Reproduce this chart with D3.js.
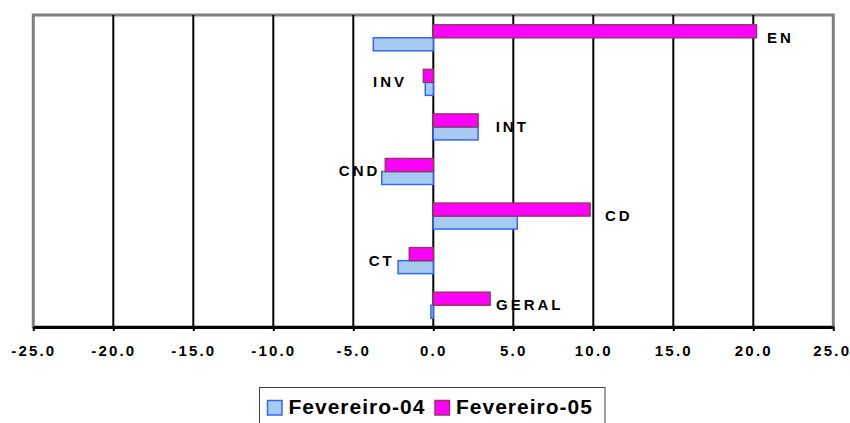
<!DOCTYPE html>
<html>
<head>
<meta charset="utf-8">
<script src="https://cdn.jsdelivr.net/npm/d3@7"></script>
<style>
  html, body { margin: 0; padding: 0; background: #fff; }
  svg { display: block; font-family: "Liberation Sans", Arial, sans-serif; }
</style>
</head>
<body>
<svg id="chart" width="850" height="423"></svg>
<script>
const categories = ["EN", "INV", "INT", "CND", "CD", "CT", "GERAL"];
const fev04 = [-3.75, -0.5, 2.8, -3.22, 5.25, -2.2, -0.15];
const fev05 = [20.2, -0.62, 2.8, -3.0, 9.8, -1.5, 3.55];
const labelAt = [20.85, -1.83, 3.9, -3.5, 10.73, -2.6, 3.92];
const xTicks = [-25, -20, -15, -10, -5, 0, 5, 10, 15, 20, 25];
const seriesNames = ["Fevereiro-04", "Fevereiro-05"];
const seriesFill = ["#A6CAF0", "#FF00FF"];
const seriesStroke = ["#3366FF", "#993366"];

(function () {
const W = 850;
const svg = d3.select("#chart");
const pLeft = 33.3, pRight = 833.3, pTop = 15, pBottom = 327;

const x = d3.scaleLinear().domain([-25, 25]).range([pLeft, pRight]);
const y = d3.scaleBand().domain(categories).range([pTop, pBottom]);
// series 1 (Fevereiro-05) above, series 0 (Fevereiro-04) below
const inner = d3.scaleBand().domain([1, 0]).range([-12.5, 13.5]);

// plot border
svg.append("rect")
  .attr("x", pLeft).attr("y", pTop)
  .attr("width", pRight - pLeft).attr("height", pBottom - pTop)
  .attr("fill", "#fff").attr("stroke", "#808080").attr("stroke-width", 3);

// gridlines
svg.append("g").selectAll("line")
  .data(xTicks.filter(t => t > -25 && t < 25))
  .join("line")
  .attr("x1", d => x(d)).attr("x2", d => x(d))
  .attr("y1", pTop).attr("y2", pBottom)
  .attr("stroke", "#000").attr("stroke-width", 2);

// bars
const series = [fev04, fev05];
series.forEach((vals, si) => {
  svg.append("g").selectAll("rect")
    .data(vals.map((v, i) => ({ v, c: categories[i] })))
    .join("rect")
    .attr("x", d => x(Math.min(d.v, 0)))
    .attr("width", d => Math.abs(x(d.v) - x(0)))
    .attr("y", d => y(d.c) + y.bandwidth() / 2 + inner(si))
    .attr("height", inner.bandwidth())
    .attr("fill", seriesFill[si])
    .attr("stroke", seriesStroke[si])
    .attr("stroke-width", 1.5);
});

// category labels
const lblSpacing = 3;
svg.append("g").selectAll("text")
  .data(categories.map((c, i) => ({ c, at: labelAt[i] })))
  .join("text")
  .attr("x", d => d.at < 0 ? x(d.at) + lblSpacing : x(d.at))
  .attr("y", d => y(d.c) + y.bandwidth() / 2)
  .attr("dy", "0.36em")
  .attr("text-anchor", d => d.at < 0 ? "end" : "start")
  .attr("font-size", 15).attr("font-weight", "bold")
  .attr("letter-spacing", lblSpacing)
  .attr("fill", "#000")
  .text(d => d.c);

// x axis
const fmt = d3.format(".1f");
const axis = d3.axisBottom(x)
  .tickValues(xTicks)
  .tickSize(4)
  .tickSizeOuter(0)
  .tickFormat(d => fmt(d).replace("\u2212", "-"));
const gx = svg.append("g").attr("transform", `translate(0,${pBottom})`).call(axis);
gx.select(".domain").attr("stroke", "#000").attr("stroke-width", 3);
gx.selectAll(".tick line").attr("stroke", "#000").attr("stroke-width", 2);
const tickSpacing = 2.2;
gx.selectAll(".tick text")
  .attr("y", 0).attr("dy", 0)
  .attr("transform", "translate(0,28.5)")
  .attr("font-family", "Liberation Sans, Arial, sans-serif")
  .attr("font-size", 15).attr("font-weight", "bold")
  .attr("letter-spacing", tickSpacing)
  .attr("fill", "#000");
// keep the last label inside the picture
gx.selectAll(".tick text").each(function () {
  const t = d3.select(this);
  const tick = this.parentNode;
  const m = /translate\(([-\d.]+)/.exec(tick.getAttribute("transform"));
  const tx = m ? +m[1] : 0;
  const w = this.getComputedTextLength() - tickSpacing;
  if (tx + w / 2 > W - 1) {
    t.attr("text-anchor", "end").attr("x", W - 1 - tx + tickSpacing);
  }
});

// legend
const legend = svg.append("g");
legend.append("rect")
  .attr("x", 259.5).attr("y", 387.5)
  .attr("width", 345.5).attr("height", 50)
  .attr("fill", "#fff").attr("stroke", "#404040").attr("stroke-width", 1);
const legX = [267.5, 435];
seriesNames.forEach((name, i) => {
  legend.append("rect")
    .attr("x", legX[i]).attr("y", 400.5)
    .attr("width", 14.5).attr("height", 14.5)
    .attr("fill", seriesFill[i]).attr("stroke", seriesStroke[i]).attr("stroke-width", 1.5);
  legend.append("text")
    .attr("x", legX[i] + 21).attr("y", 413.5)
    .attr("font-size", 21).attr("font-weight", "bold")
    .attr("letter-spacing", 1)
    .attr("fill", "#000")
    .text(name);
});
})();
</script>
</body>
</html>
